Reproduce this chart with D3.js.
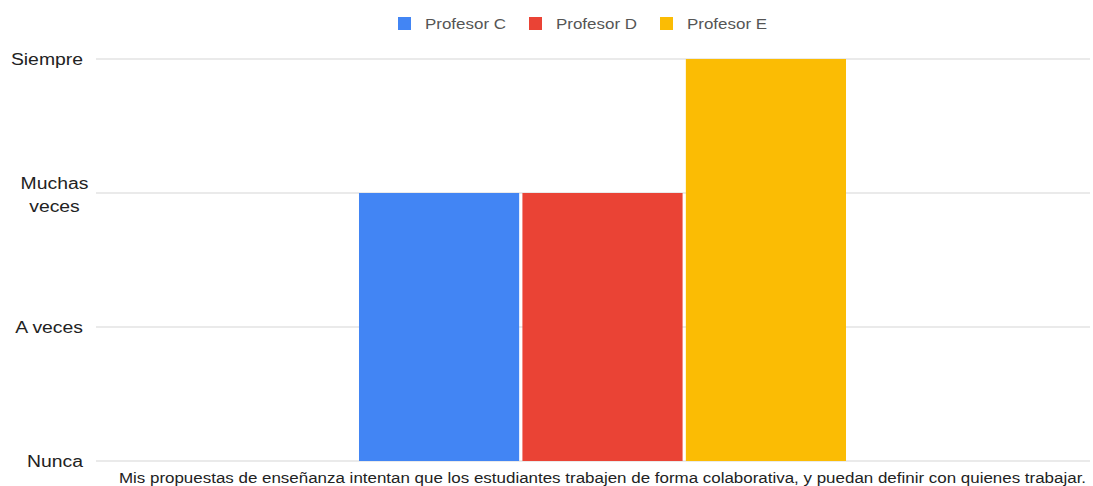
<!DOCTYPE html>
<html>
<head>
<meta charset="utf-8">
<script src="https://cdn.jsdelivr.net/npm/d3@7"></script>
<style>
  html, body { margin: 0; padding: 0; background: #fff; }
  svg { display: block; font-family: Arial, "Liberation Sans", sans-serif; }
</style>
</head>
<body>
<svg id="chart" width="1093" height="486"></svg>
<script>
// Survey question (category) and per-teacher answers on a 0–3 frequency scale
const categories = ["Mis propuestas de enseñanza intentan que los estudiantes trabajen de forma colaborativa, y puedan definir con quienes trabajar."];
const seriesNames = ["Profesor C", "Profesor D", "Profesor E"];
const seriesValues = [2, 2, 3];
const seriesColors = ["#4285f4", "#ea4335", "#fbbc04"];
const tickValues = [0, 1, 2, 3];
const tickLabels = [["Nunca"], ["A veces"], ["Muchas", "veces"], ["Siempre"]];

const svg = d3.select("#chart");
const plot = { left: 96, right: 1109, top: 59, bottom: 461 };
const WIDEN = 1.21; // horizontal widening of the type

// Stretch a text/tspan node horizontally by WIDEN
function widen(sel) {
  sel.each(function () {
    const len = this.getComputedTextLength();
    d3.select(this).attr("textLength", len * WIDEN).attr("lengthAdjust", "spacingAndGlyphs");
  });
}

const y = d3.scaleLinear().domain([0, 3]).range([plot.bottom, plot.top]);
const x0 = d3.scaleBand().domain(categories).range([plot.left, plot.right])
  .paddingInner(0).paddingOuter(0.54);
const x1 = d3.scaleBand().domain(seriesNames).range([0, x0.bandwidth()]).paddingInner(0.02);

// Gridlines
svg.append("g").selectAll("line").data(tickValues).join("line")
  .attr("x1", plot.left).attr("x2", 1090)
  .attr("y1", d => y(d)).attr("y2", d => y(d))
  .attr("stroke", "#e3e3e3").attr("stroke-width", 1.5);

// Y tick labels; wrapped labels are centred line by line
const yLabels = svg.append("g").attr("font-size", 16).attr("fill", "#222");
tickValues.forEach((v, i) => {
  const lines = tickLabels[i];
  const lh = 23;
  if (lines.length === 1) {
    const t = yLabels.append("text").attr("x", 83).attr("y", y(v)).attr("dy", "0.35em")
      .attr("text-anchor", "end").text(lines[0]);
    widen(t);
  } else {
    const cx = 54.5;
    const top = y(v) - (lines.length - 1) * lh / 2 + 2;
    lines.forEach((l, j) => {
      const t = yLabels.append("text").attr("x", cx).attr("y", top + j * lh).attr("dy", "0.35em")
        .attr("text-anchor", "middle").text(l);
      widen(t);
    });
  }
});

// Bars
const group = svg.append("g").attr("transform", `translate(${x0(categories[0])},0)`);
group.selectAll("rect").data(seriesNames).join("rect")
  .attr("x", d => x1(d))
  .attr("width", x1.bandwidth())
  .attr("y", (d, i) => y(seriesValues[i]))
  .attr("height", (d, i) => y(0) - y(seriesValues[i]))
  .attr("fill", (d, i) => seriesColors[i]);

// Category label
const catLabel = svg.append("text")
  .attr("x", x0(categories[0]) + x0.bandwidth() / 2)
  .attr("y", 478).attr("dy", "0.35em")
  .attr("text-anchor", "middle").attr("font-size", 14).attr("fill", "#222")
  .text(categories[0]);
widen(catLabel);

// Legend
const legendX = [398, 529, 660];
const legend = svg.append("g");
seriesNames.forEach((name, i) => {
  legend.append("rect").attr("x", legendX[i]).attr("y", 17).attr("width", 13).attr("height", 13)
    .attr("fill", seriesColors[i]);
  const t = legend.append("text").attr("x", legendX[i] + 27).attr("y", 24).attr("dy", "0.35em")
    .attr("font-size", 14).attr("fill", "#555").text(name);
  widen(t);
});
</script>
</body>
</html>
